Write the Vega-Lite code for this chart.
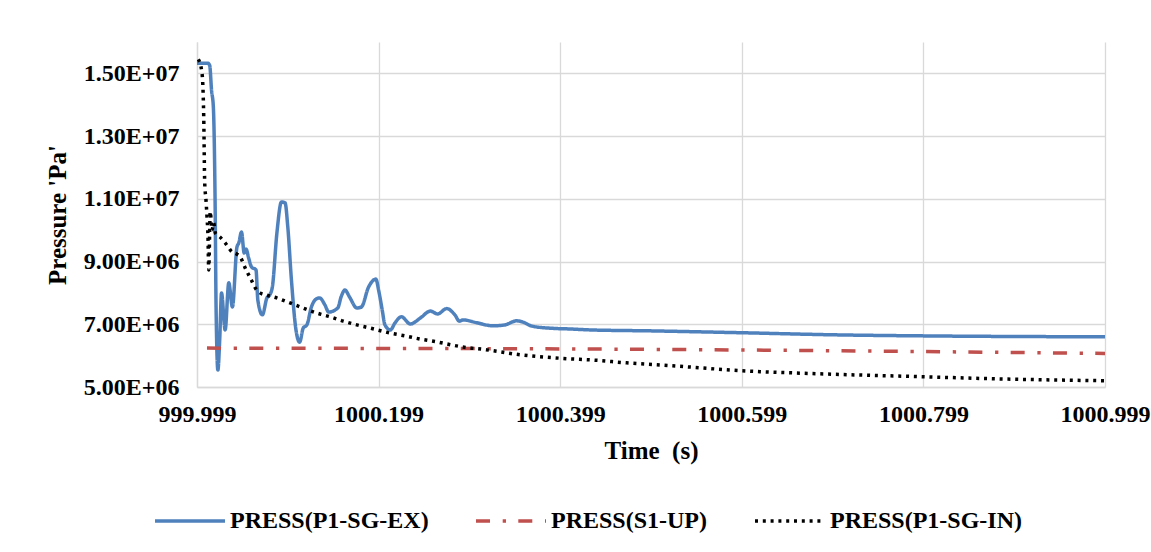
{
  "$schema": "https://vega.github.io/schema/vega-lite/v6.json",
  "autosize": {"type": "none"},
  "padding": {"left": 197, "top": 42, "right": 46, "bottom": 165},
  "width": 908,
  "height": 345,
  "background": "white",
  "config": {
    "view": {"stroke": null},
    "font": "Liberation Serif"
  },
  "data": {
    "values": [
      {"t": 999.999, "p": 15320000, "s": "PRESS(P1-SG-EX)"},
      {"t": 1000.011, "p": 15320000, "s": "PRESS(P1-SG-EX)"},
      {"t": 1000.013, "p": 15250000, "s": "PRESS(P1-SG-EX)"},
      {"t": 1000.015, "p": 14470000, "s": "PRESS(P1-SG-EX)"},
      {"t": 1000.017, "p": 13930000, "s": "PRESS(P1-SG-EX)"},
      {"t": 1000.019, "p": 10740000, "s": "PRESS(P1-SG-EX)"},
      {"t": 1000.020, "p": 7550000, "s": "PRESS(P1-SG-EX)"},
      {"t": 1000.022, "p": 5540000, "s": "PRESS(P1-SG-EX)"},
      {"t": 1000.024, "p": 6500000, "s": "PRESS(P1-SG-EX)"},
      {"t": 1000.026, "p": 8000000, "s": "PRESS(P1-SG-EX)"},
      {"t": 1000.030, "p": 6820000, "s": "PRESS(P1-SG-EX)"},
      {"t": 1000.034, "p": 8320000, "s": "PRESS(P1-SG-EX)"},
      {"t": 1000.038, "p": 7550000, "s": "PRESS(P1-SG-EX)"},
      {"t": 1000.043, "p": 9460000, "s": "PRESS(P1-SG-EX)"},
      {"t": 1000.045, "p": 9590000, "s": "PRESS(P1-SG-EX)"},
      {"t": 1000.048, "p": 9940000, "s": "PRESS(P1-SG-EX)"},
      {"t": 1000.051, "p": 9270000, "s": "PRESS(P1-SG-EX)"},
      {"t": 1000.053, "p": 9400000, "s": "PRESS(P1-SG-EX)"},
      {"t": 1000.056, "p": 9100000, "s": "PRESS(P1-SG-EX)"},
      {"t": 1000.059, "p": 8830000, "s": "PRESS(P1-SG-EX)"},
      {"t": 1000.064, "p": 8730000, "s": "PRESS(P1-SG-EX)"},
      {"t": 1000.066, "p": 7770000, "s": "PRESS(P1-SG-EX)"},
      {"t": 1000.071, "p": 7300000, "s": "PRESS(P1-SG-EX)"},
      {"t": 1000.076, "p": 7840000, "s": "PRESS(P1-SG-EX)"},
      {"t": 1000.079, "p": 7930000, "s": "PRESS(P1-SG-EX)"},
      {"t": 1000.082, "p": 8190000, "s": "PRESS(P1-SG-EX)"},
      {"t": 1000.087, "p": 9910000, "s": "PRESS(P1-SG-EX)"},
      {"t": 1000.092, "p": 10900000, "s": "PRESS(P1-SG-EX)"},
      {"t": 1000.096, "p": 10870000, "s": "PRESS(P1-SG-EX)"},
      {"t": 1000.099, "p": 10100000, "s": "PRESS(P1-SG-EX)"},
      {"t": 1000.103, "p": 8410000, "s": "PRESS(P1-SG-EX)"},
      {"t": 1000.108, "p": 6820000, "s": "PRESS(P1-SG-EX)"},
      {"t": 1000.112, "p": 6430000, "s": "PRESS(P1-SG-EX)"},
      {"t": 1000.116, "p": 6880000, "s": "PRESS(P1-SG-EX)"},
      {"t": 1000.120, "p": 6980000, "s": "PRESS(P1-SG-EX)"},
      {"t": 1000.125, "p": 7550000, "s": "PRESS(P1-SG-EX)"},
      {"t": 1000.130, "p": 7800000, "s": "PRESS(P1-SG-EX)"},
      {"t": 1000.134, "p": 7840000, "s": "PRESS(P1-SG-EX)"},
      {"t": 1000.140, "p": 7610000, "s": "PRESS(P1-SG-EX)"},
      {"t": 1000.144, "p": 7390000, "s": "PRESS(P1-SG-EX)"},
      {"t": 1000.154, "p": 7520000, "s": "PRESS(P1-SG-EX)"},
      {"t": 1000.158, "p": 7900000, "s": "PRESS(P1-SG-EX)"},
      {"t": 1000.162, "p": 8090000, "s": "PRESS(P1-SG-EX)"},
      {"t": 1000.167, "p": 7870000, "s": "PRESS(P1-SG-EX)"},
      {"t": 1000.175, "p": 7520000, "s": "PRESS(P1-SG-EX)"},
      {"t": 1000.180, "p": 7550000, "s": "PRESS(P1-SG-EX)"},
      {"t": 1000.188, "p": 8190000, "s": "PRESS(P1-SG-EX)"},
      {"t": 1000.196, "p": 8440000, "s": "PRESS(P1-SG-EX)"},
      {"t": 1000.199, "p": 8090000, "s": "PRESS(P1-SG-EX)"},
      {"t": 1000.203, "p": 7450000, "s": "PRESS(P1-SG-EX)"},
      {"t": 1000.206, "p": 6980000, "s": "PRESS(P1-SG-EX)"},
      {"t": 1000.212, "p": 6820000, "s": "PRESS(P1-SG-EX)"},
      {"t": 1000.217, "p": 7040000, "s": "PRESS(P1-SG-EX)"},
      {"t": 1000.224, "p": 7240000, "s": "PRESS(P1-SG-EX)"},
      {"t": 1000.234, "p": 7010000, "s": "PRESS(P1-SG-EX)"},
      {"t": 1000.245, "p": 7200000, "s": "PRESS(P1-SG-EX)"},
      {"t": 1000.256, "p": 7420000, "s": "PRESS(P1-SG-EX)"},
      {"t": 1000.264, "p": 7330000, "s": "PRESS(P1-SG-EX)"},
      {"t": 1000.274, "p": 7500000, "s": "PRESS(P1-SG-EX)"},
      {"t": 1000.283, "p": 7300000, "s": "PRESS(P1-SG-EX)"},
      {"t": 1000.288, "p": 7100000, "s": "PRESS(P1-SG-EX)"},
      {"t": 1000.292, "p": 7140000, "s": "PRESS(P1-SG-EX)"},
      {"t": 1000.307, "p": 7050000, "s": "PRESS(P1-SG-EX)"},
      {"t": 1000.325, "p": 6950000, "s": "PRESS(P1-SG-EX)"},
      {"t": 1000.338, "p": 6980000, "s": "PRESS(P1-SG-EX)"},
      {"t": 1000.351, "p": 7110000, "s": "PRESS(P1-SG-EX)"},
      {"t": 1000.358, "p": 7070000, "s": "PRESS(P1-SG-EX)"},
      {"t": 1000.368, "p": 6940000, "s": "PRESS(P1-SG-EX)"},
      {"t": 1000.391, "p": 6870000, "s": "PRESS(P1-SG-EX)"},
      {"t": 1000.410, "p": 6850000, "s": "PRESS(P1-SG-EX)"},
      {"t": 1000.432, "p": 6820000, "s": "PRESS(P1-SG-EX)"},
      {"t": 1000.498, "p": 6790000, "s": "PRESS(P1-SG-EX)"},
      {"t": 1000.599, "p": 6730000, "s": "PRESS(P1-SG-EX)"},
      {"t": 1000.708, "p": 6660000, "s": "PRESS(P1-SG-EX)"},
      {"t": 1000.799, "p": 6630000, "s": "PRESS(P1-SG-EX)"},
      {"t": 1000.999, "p": 6600000, "s": "PRESS(P1-SG-EX)"},

      {"t": 1000.010, "p": 6240000, "s": "PRESS(S1-UP)"},
      {"t": 1000.200, "p": 6230000, "s": "PRESS(S1-UP)"},
      {"t": 1000.399, "p": 6215000, "s": "PRESS(S1-UP)"},
      {"t": 1000.599, "p": 6180000, "s": "PRESS(S1-UP)"},
      {"t": 1000.799, "p": 6130000, "s": "PRESS(S1-UP)"},
      {"t": 1000.999, "p": 6070000, "s": "PRESS(S1-UP)"},

      {"t": 1000.0005, "p": 15450000, "s": "PRESS(P1-SG-IN)"},
      {"t": 1000.0045, "p": 15010000, "s": "PRESS(P1-SG-IN)"},
      {"t": 1000.0064, "p": 13620000, "s": "PRESS(P1-SG-IN)"},
      {"t": 1000.0075, "p": 11500000, "s": "PRESS(P1-SG-IN)"},
      {"t": 1000.0089, "p": 10960000, "s": "PRESS(P1-SG-IN)"},
      {"t": 1000.0100, "p": 10430000, "s": "PRESS(P1-SG-IN)"},
      {"t": 1000.0111, "p": 9790000, "s": "PRESS(P1-SG-IN)"},
      {"t": 1000.0119, "p": 8730000, "s": "PRESS(P1-SG-IN)"},
      {"t": 1000.0136, "p": 10590000, "s": "PRESS(P1-SG-IN)"},
      {"t": 1000.0155, "p": 10000000, "s": "PRESS(P1-SG-IN)"},
      {"t": 1000.0174, "p": 10230000, "s": "PRESS(P1-SG-IN)"},
      {"t": 1000.0192, "p": 9910000, "s": "PRESS(P1-SG-IN)"},
      {"t": 1000.0243, "p": 9780000, "s": "PRESS(P1-SG-IN)"},
      {"t": 1000.0302, "p": 9590000, "s": "PRESS(P1-SG-IN)"},
      {"t": 1000.0375, "p": 9310000, "s": "PRESS(P1-SG-IN)"},
      {"t": 1000.0427, "p": 9240000, "s": "PRESS(P1-SG-IN)"},
      {"t": 1000.0467, "p": 9140000, "s": "PRESS(P1-SG-IN)"},
      {"t": 1000.0522, "p": 8790000, "s": "PRESS(P1-SG-IN)"},
      {"t": 1000.0588, "p": 8410000, "s": "PRESS(P1-SG-IN)"},
      {"t": 1000.0640, "p": 8120000, "s": "PRESS(P1-SG-IN)"},
      {"t": 1000.0684, "p": 8000000, "s": "PRESS(P1-SG-IN)"},
      {"t": 1000.0758, "p": 7930000, "s": "PRESS(P1-SG-IN)"},
      {"t": 1000.0868, "p": 7840000, "s": "PRESS(P1-SG-IN)"},
      {"t": 1000.1014, "p": 7680000, "s": "PRESS(P1-SG-IN)"},
      {"t": 1000.1157, "p": 7520000, "s": "PRESS(P1-SG-IN)"},
      {"t": 1000.1308, "p": 7360000, "s": "PRESS(P1-SG-IN)"},
      {"t": 1000.1455, "p": 7240000, "s": "PRESS(P1-SG-IN)"},
      {"t": 1000.1601, "p": 7100000, "s": "PRESS(P1-SG-IN)"},
      {"t": 1000.1749, "p": 6980000, "s": "PRESS(P1-SG-IN)"},
      {"t": 1000.1895, "p": 6880000, "s": "PRESS(P1-SG-IN)"},
      {"t": 1000.2116, "p": 6720000, "s": "PRESS(P1-SG-IN)"},
      {"t": 1000.2281, "p": 6630000, "s": "PRESS(P1-SG-IN)"},
      {"t": 1000.2446, "p": 6530000, "s": "PRESS(P1-SG-IN)"},
      {"t": 1000.2630, "p": 6440000, "s": "PRESS(P1-SG-IN)"},
      {"t": 1000.2795, "p": 6340000, "s": "PRESS(P1-SG-IN)"},
      {"t": 1000.2978, "p": 6250000, "s": "PRESS(P1-SG-IN)"},
      {"t": 1000.3143, "p": 6200000, "s": "PRESS(P1-SG-IN)"},
      {"t": 1000.3308, "p": 6130000, "s": "PRESS(P1-SG-IN)"},
      {"t": 1000.3492, "p": 6050000, "s": "PRESS(P1-SG-IN)"},
      {"t": 1000.3676, "p": 5990000, "s": "PRESS(P1-SG-IN)"},
      {"t": 1000.3841, "p": 5950000, "s": "PRESS(P1-SG-IN)"},
      {"t": 1000.4024, "p": 5910000, "s": "PRESS(P1-SG-IN)"},
      {"t": 1000.435, "p": 5860000, "s": "PRESS(P1-SG-IN)"},
      {"t": 1000.472, "p": 5770000, "s": "PRESS(P1-SG-IN)"},
      {"t": 1000.509, "p": 5700000, "s": "PRESS(P1-SG-IN)"},
      {"t": 1000.545, "p": 5630000, "s": "PRESS(P1-SG-IN)"},
      {"t": 1000.582, "p": 5550000, "s": "PRESS(P1-SG-IN)"},
      {"t": 1000.619, "p": 5490000, "s": "PRESS(P1-SG-IN)"},
      {"t": 1000.655, "p": 5450000, "s": "PRESS(P1-SG-IN)"},
      {"t": 1000.707, "p": 5400000, "s": "PRESS(P1-SG-IN)"},
      {"t": 1000.795, "p": 5330000, "s": "PRESS(P1-SG-IN)"},
      {"t": 1000.880, "p": 5260000, "s": "PRESS(P1-SG-IN)"},
      {"t": 1000.999, "p": 5200000, "s": "PRESS(P1-SG-IN)"}
    ]
  },
  "mark": {"type": "line", "interpolate": "monotone", "strokeWidth": 3.5, "clip": true},
  "encoding": {
    "x": {
      "field": "t",
      "type": "quantitative",
      "scale": {"domain": [999.999, 1000.999], "nice": false, "zero": false},
      "axis": {
        "title": "Time\u00a0\u00a0(s)",
        "values": [999.999, 1000.199, 1000.399, 1000.599, 1000.799, 1000.999],
        "format": ".3f",
        "grid": true,
        "gridColor": "#D9D9D9",
        "gridWidth": 1.3,
        "domainColor": "#D9D9D9",
        "domainWidth": 1.3,
        "ticks": false,
        "labelPadding": 15,
        "labelFont": "Liberation Serif",
        "labelFontSize": 24,
        "labelFontWeight": "bold",
        "labelColor": "#000000",
        "labelFlush": false,
        "labelOverlap": false,
        "titleFont": "Liberation Serif",
        "titleFontSize": 25,
        "titleFontWeight": "bold",
        "titleColor": "#000000",
        "titlePadding": 12
      }
    },
    "y": {
      "field": "p",
      "type": "quantitative",
      "scale": {"domain": [5000000, 16000000], "nice": false, "zero": false},
      "axis": {
        "title": "Pressure 'Pa'",
        "values": [5000000, 7000000, 9000000, 11000000, 13000000, 15000000],
        "labelExpr": "replace(upper(format(datum.value, '.2e')), 'E+', 'E+0')",
        "grid": true,
        "gridColor": "#D9D9D9",
        "gridWidth": 1.3,
        "domainColor": "#D9D9D9",
        "domainWidth": 1.3,
        "ticks": false,
        "labelPadding": 18,
        "labelFont": "Liberation Serif",
        "labelFontSize": 24,
        "labelFontWeight": "bold",
        "labelColor": "#000000",
        "labelOverlap": false,
        "labelFlush": false,
        "titleFont": "Liberation Serif",
        "titleFontSize": 25,
        "titleFontWeight": "bold",
        "titleColor": "#000000",
        "titlePadding": 13
      }
    },
    "color": {
      "field": "s",
      "type": "nominal",
      "scale": {
        "domain": ["PRESS(P1-SG-EX)", "PRESS(S1-UP)", "PRESS(P1-SG-IN)"],
        "range": ["#4F81BD", "#C0504D", "#000000"]
      },
      "legend": {
        "title": null,
        "orient": "none",
        "legendX": -44,
        "legendY": 442,
        "direction": "horizontal",
        "symbolType": "stroke",
        "symbolSize": 4900,
        "symbolStrokeWidth": 3.5,
        "labelFont": "Liberation Serif",
        "labelFontSize": 24,
        "labelFontWeight": "bold",
        "labelColor": "#000000",
        "labelOffset": 3,
        "labelLimit": 400,
        "columnPadding": 40
      }
    },
    "strokeDash": {
      "field": "s",
      "type": "nominal",
      "scale": {
        "domain": ["PRESS(P1-SG-EX)", "PRESS(S1-UP)", "PRESS(P1-SG-IN)"],
        "range": [[1, 0], [14, 12.7, 3.3, 12.3], [3, 4.8]]
      }
    }
  }
}
